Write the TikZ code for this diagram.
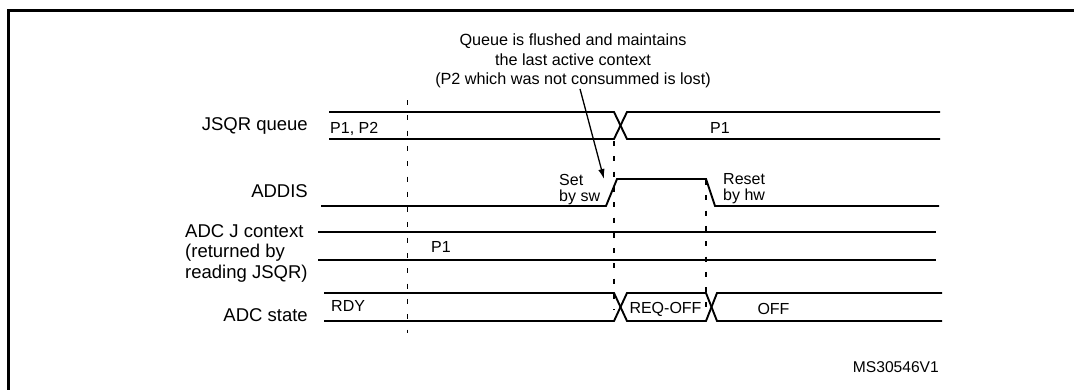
\documentclass[tikz,border=0pt]{standalone}
\usepackage{fontspec}
\setmainfont{Liberation Sans}
\usetikzlibrary{arrows.meta}
\begin{document}
\begin{tikzpicture}[x=1pt,y=-1pt,
  sig/.style={line width=1.9pt, line join=miter},
  guide/.style={line width=1.8pt, dash pattern=on 5pt off 10.3pt},
  lbl/.style={font=\fontsize{18.5}{20.5}\selectfont, inner sep=0pt},
  val/.style={font=\fontsize{16}{16}\selectfont, inner sep=0pt},
  swnote/.style={font=\fontsize{16}{15.5}\selectfont, inner sep=0pt, align=left},
  note/.style={font=\fontsize{16.2}{19.3}\selectfont, inner sep=0pt, align=center},
  framestyle/.style={line width=2.6pt}]
\useasboundingbox (0,0) rectangle (1074,389);
\clip (0,0) rectangle (1074,389);
% frame (only left and top edges visible)
\draw[framestyle] (8.7,400) -- (8.7,10.7) -- (1090,10.7);

% signal labels
\node[lbl, anchor=base east] (lq) at (308,130.5) {JSQR queue};
\node[lbl, anchor=base east] (ladd) at (308,197) {ADDIS};
\node[lbl, anchor=north west, align=left] (lctx) at (185,224) {ADC J context\\(returned by\\reading JSQR)};
\node[lbl, anchor=base east] (lst) at (308,321.7) {ADC state};

% JSQR queue bus
\draw[sig] (329,112) -- (614,112) -- (627,139) -- (940,139);
\draw[sig] (329,139) -- (614,139) -- (627,112) -- (940,112);
\node[val, anchor=base west] (qa) at (330,133.5) {P1, P2};
\node[val, anchor=base west] (qb) at (710,133.3) {P1};

% ADDIS
\draw[sig] (321,206) -- (606,206) -- (617,179) -- (706,179) -- (715,206) -- (939,206);
\node[swnote, anchor=north west] (setsw) at (559,174.5) {Set\\by sw};
\node[swnote, anchor=north west] (resethw) at (723,173.5) {Reset\\by hw};

% ADC J context bus
\draw[sig] (318,232) -- (936,232);
\draw[sig] (318,260) -- (936,260);
\node[val, anchor=base west] (ca) at (431,252.7) {P1};

% ADC state bus
\draw[sig] (324,293) -- (614,293) -- (627,321) -- (706,321) -- (717,293) -- (942,293);
\draw[sig] (324,321) -- (614,321) -- (627,293) -- (706,293) -- (717,321) -- (942,321);
\node[val, anchor=base west] (sa) at (331,311) {RDY};
\node[val, anchor=base] (sb) at (665.5,313.5) {REQ-OFF};
\node[val, anchor=base] (sc) at (773.5,314) {OFF};

% dashed time markers
\draw[guide] (407.5,100) -- (407.5,333);
\draw[guide] (614,141) -- (614,310);
\draw[guide] (706,180) -- (706,310);

% annotation
\node[note, anchor=north] (flush) at (573,33.8) {Queue is flushed and maintains\\the last active context\\(P2 which was not consummed is lost)};
\coordinate (tip) at (604,179);
\draw[line width=1.3pt, -{Latex[length=10pt,width=6.5pt]}] ([xshift=7pt,yshift=-1pt]flush.south) -- (tip);

% reference
\node[font=\fontsize{15.6}{15.6}\selectfont, inner sep=0pt, anchor=base east] (ref) at (939,372.5) {MS30546V1};
\end{tikzpicture}
\end{document}
